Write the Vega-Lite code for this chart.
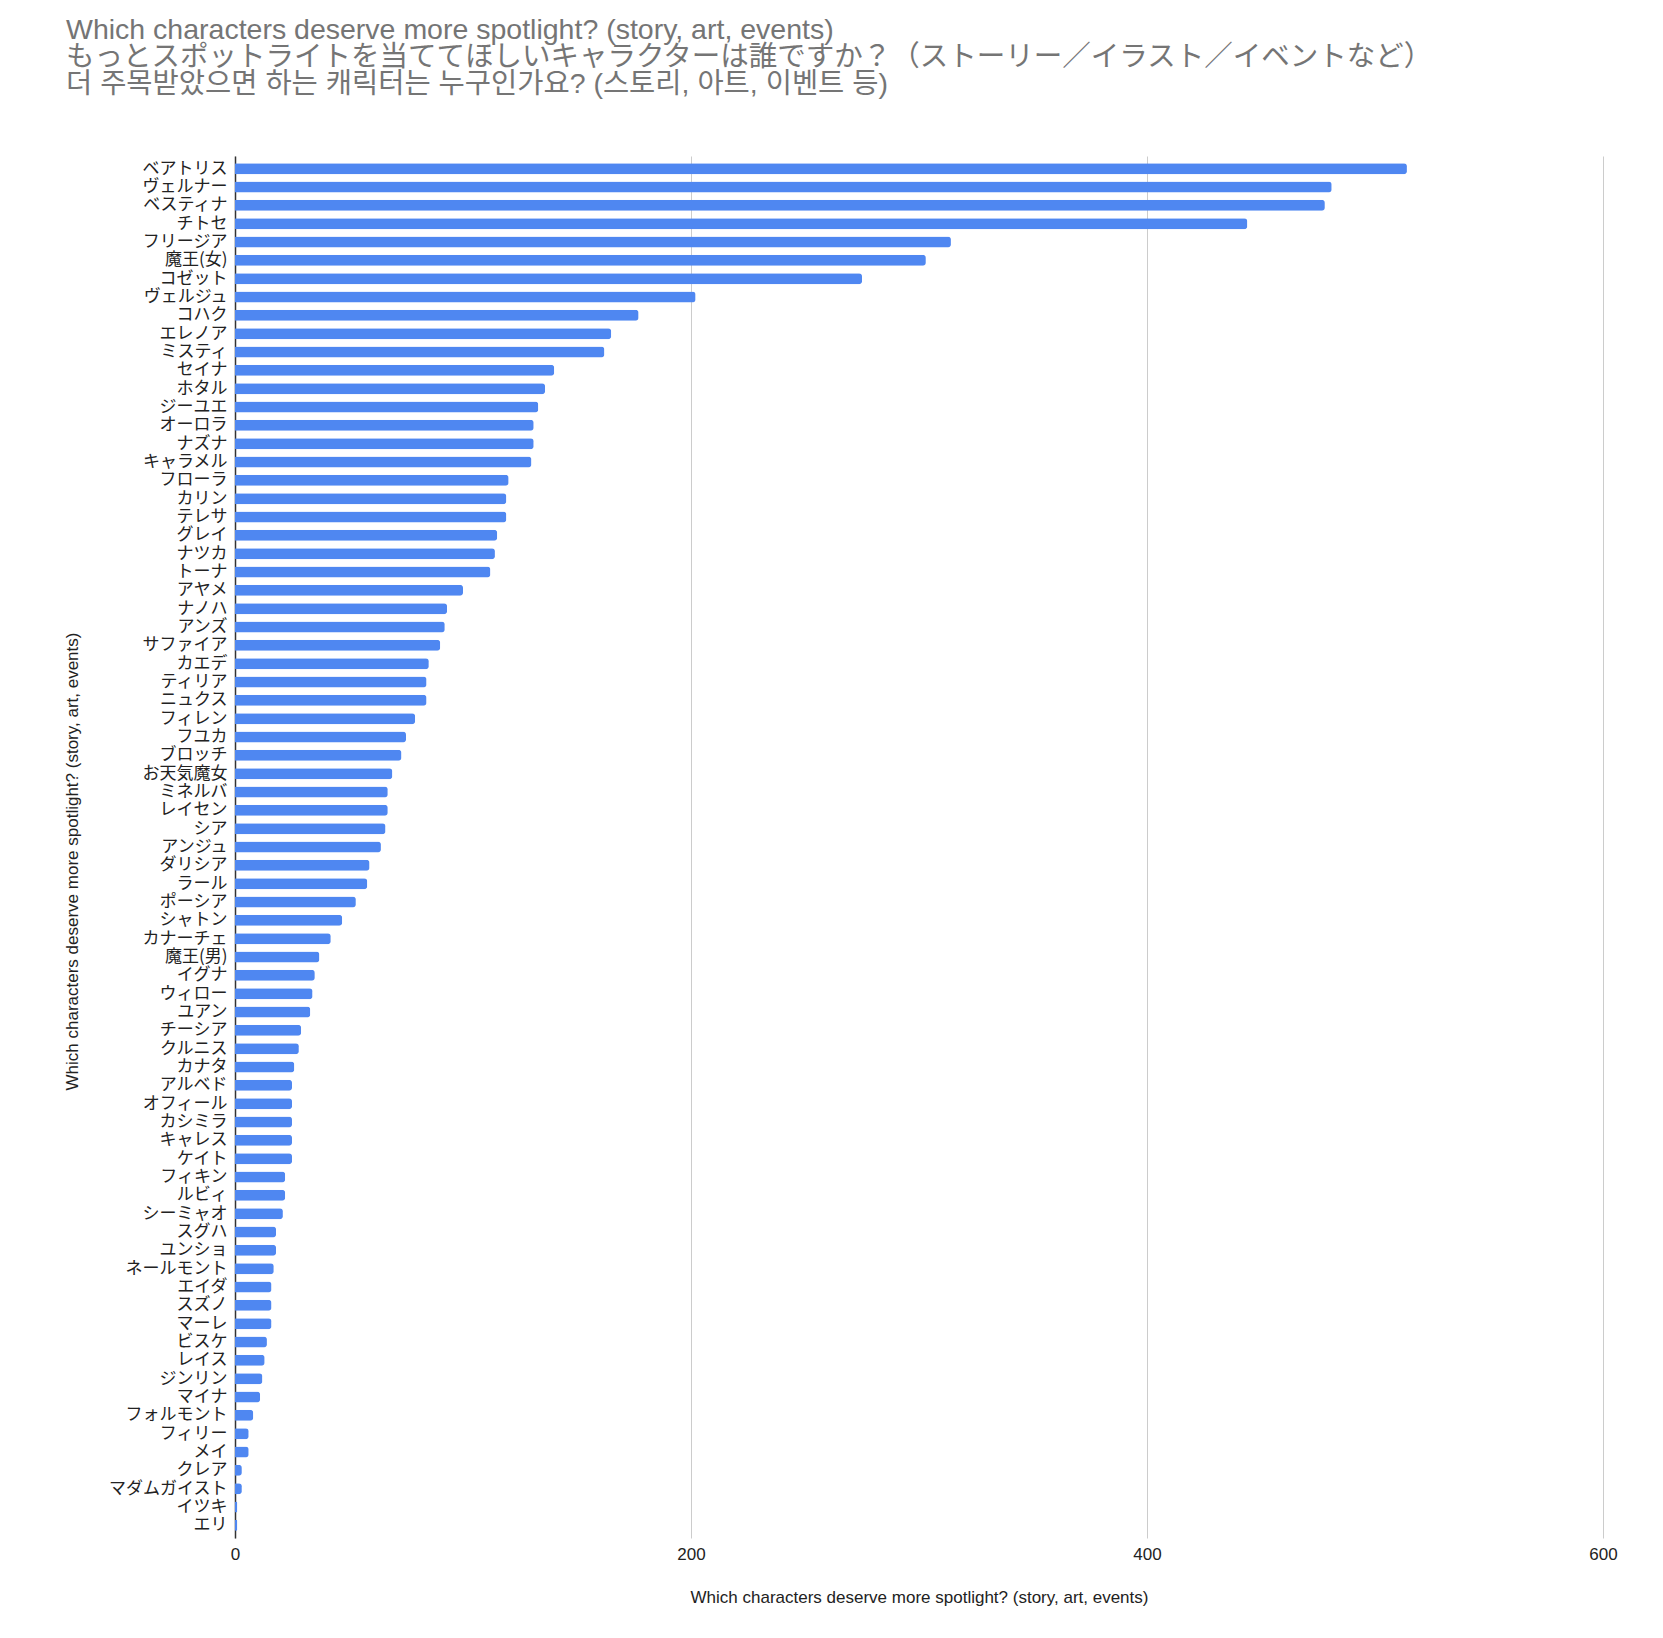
{
  "$schema": "https://vega.github.io/schema/vega-lite/v6.json",
  "autosize": {"type": "none"},
  "padding": {"left": 235, "top": 156, "right": 60, "bottom": 100},
  "width": 1368,
  "height": 1382,
  "background": "white",
  "title": {
    "text": ["Which characters deserve more spotlight? (story, art, events)", "もっとスポットライトを当ててほしいキャラクターは誰ですか？（ストーリー／イラスト／イベントなど）", "더 주목받았으면 하는 캐릭터는 누구인가요? (스토리, 아트, 이벤트 등)"],
    "anchor": "start",
    "frame": "group",
    "dx": -169,
    "offset": 58,
    "fontSize": 28.5,
    "lineHeight": 27,
    "fontWeight": "normal",
    "color": "#757575",
    "font": "Liberation Sans, Noto Sans CJK JP, Noto Sans CJK KR, sans-serif"
  },
  "data": {
    "values": [
      {"name": "ベアトリス", "count": 514},
      {"name": "ヴェルナー", "count": 481},
      {"name": "ベスティナ", "count": 478},
      {"name": "チトセ", "count": 444},
      {"name": "フリージア", "count": 314},
      {"name": "魔王(女)", "count": 303},
      {"name": "コゼット", "count": 275},
      {"name": "ヴェルジュ", "count": 202},
      {"name": "コハク", "count": 177},
      {"name": "エレノア", "count": 165},
      {"name": "ミスティ", "count": 162},
      {"name": "セイナ", "count": 140},
      {"name": "ホタル", "count": 136},
      {"name": "ジーユエ", "count": 133},
      {"name": "オーロラ", "count": 131},
      {"name": "ナズナ", "count": 131},
      {"name": "キャラメル", "count": 130},
      {"name": "フローラ", "count": 120},
      {"name": "カリン", "count": 119},
      {"name": "テレサ", "count": 119},
      {"name": "グレイ", "count": 115},
      {"name": "ナツカ", "count": 114},
      {"name": "トーナ", "count": 112},
      {"name": "アヤメ", "count": 100},
      {"name": "ナノハ", "count": 93},
      {"name": "アンズ", "count": 92},
      {"name": "サファイア", "count": 90},
      {"name": "カエデ", "count": 85},
      {"name": "ティリア", "count": 84},
      {"name": "ニュクス", "count": 84},
      {"name": "フィレン", "count": 79},
      {"name": "フユカ", "count": 75},
      {"name": "ブロッチ", "count": 73},
      {"name": "お天気魔女", "count": 69},
      {"name": "ミネルバ", "count": 67},
      {"name": "レイセン", "count": 67},
      {"name": "シア", "count": 66},
      {"name": "アンジュ", "count": 64},
      {"name": "ダリシア", "count": 59},
      {"name": "ラール", "count": 58},
      {"name": "ポーシア", "count": 53},
      {"name": "シャトン", "count": 47},
      {"name": "カナーチェ", "count": 42},
      {"name": "魔王(男)", "count": 37},
      {"name": "イグナ", "count": 35},
      {"name": "ウィロー", "count": 34},
      {"name": "ユアン", "count": 33},
      {"name": "チーシア", "count": 29},
      {"name": "クルニス", "count": 28},
      {"name": "カナタ", "count": 26},
      {"name": "アルベド", "count": 25},
      {"name": "オフィール", "count": 25},
      {"name": "カシミラ", "count": 25},
      {"name": "キャレス", "count": 25},
      {"name": "ケイト", "count": 25},
      {"name": "フィキン", "count": 22},
      {"name": "ルビィ", "count": 22},
      {"name": "シーミャオ", "count": 21},
      {"name": "スグハ", "count": 18},
      {"name": "ユンショ", "count": 18},
      {"name": "ネールモント", "count": 17},
      {"name": "エイダ", "count": 16},
      {"name": "スズノ", "count": 16},
      {"name": "マーレ", "count": 16},
      {"name": "ビスケ", "count": 14},
      {"name": "レイス", "count": 13},
      {"name": "ジンリン", "count": 12},
      {"name": "マイナ", "count": 11},
      {"name": "フォルモント", "count": 8},
      {"name": "フィリー", "count": 6},
      {"name": "メイ", "count": 6},
      {"name": "クレア", "count": 3},
      {"name": "マダムガイスト", "count": 3},
      {"name": "イツキ", "count": 1},
      {"name": "エリ", "count": 1}
    ]
  },
  "mark": {"type": "bar", "color": "#4f87f1", "cornerRadiusEnd": 3},
  "encoding": {
    "y": {
      "field": "name",
      "type": "nominal",
      "sort": null,
      "scale": {"paddingInner": 0.4, "paddingOuter": 0.39},
      "axis": {
        "title": "Which characters deserve more spotlight? (story, art, events)",
        "titleFont": "Liberation Sans, sans-serif",
        "titleFontSize": 17,
        "titleFontWeight": "normal",
        "titleColor": "#222222",
        "titleX": -163,
        "titleY": 705,
        "titleAngle": -90,
        "titleAlign": "center",
        "titleBaseline": "middle",
        "labelFont": "Noto Sans CJK JP, sans-serif",
        "labelFontSize": 17,
        "labelColor": "#222222",
        "labelPadding": 8,
        "labelOverlap": false,
        "labelLimit": 300,
        "ticks": false,
        "domain": true,
        "domainColor": "#333333",
        "domainWidth": 1.5,
        "grid": false
      }
    },
    "x": {
      "field": "count",
      "type": "quantitative",
      "scale": {"domain": [0, 600], "nice": false},
      "axis": {
        "title": "Which characters deserve more spotlight? (story, art, events)",
        "titleFont": "Liberation Sans, sans-serif",
        "titleFontSize": 17,
        "titleFontWeight": "normal",
        "titleColor": "#222222",
        "titleX": 684,
        "titleY": 59,
        "titleAlign": "center",
        "titleBaseline": "middle",
        "values": [0, 200, 400, 600],
        "format": "d",
        "labelFont": "Liberation Sans, sans-serif",
        "labelFontSize": 17,
        "labelColor": "#222222",
        "labelPadding": 8,
        "labelFlush": false,
        "ticks": false,
        "domain": false,
        "grid": true,
        "gridColor": "#cccccc",
        "gridWidth": 1
      }
    }
  },
  "config": {"view": {"stroke": null}}
}
